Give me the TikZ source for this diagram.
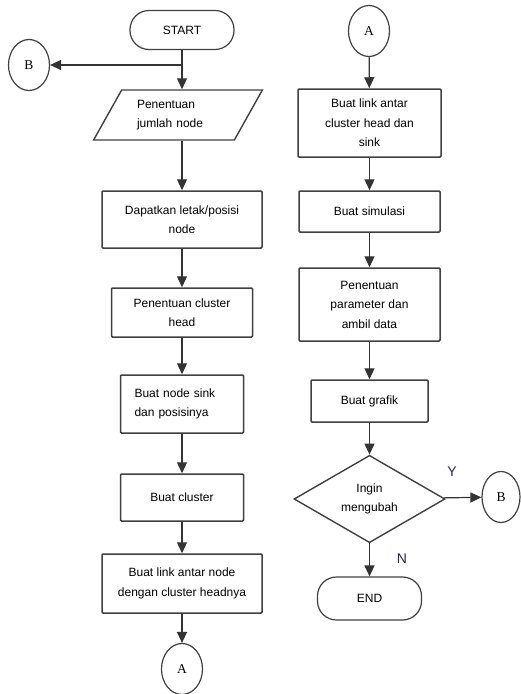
\documentclass[tikz,border=0pt]{standalone}
\usepackage{fontspec}
\setmainfont{Liberation Sans}
\newfontfamily\connfont{Liberation Serif}
\usetikzlibrary{arrows.meta,shapes.geometric}
\definecolor{ink}{RGB}{35,35,80}

\begin{document}
\begin{tikzpicture}[x=1pt,y=-1pt,->,>={Triangle[length=11pt,width=10pt]},
        font=\fontsize{12}{19.5}\selectfont,
        every edge/.style={draw=black!80,line width=1.2pt},
        proc/.style={draw=black!75,rectangle,rounded corners=1pt,line width=1.5pt,inner sep=2pt,align=center},
        term/.style={draw=black!75,rectangle,rounded corners=19pt,line width=1.2pt,align=center},
        conn/.style={draw=black!75,ellipse,inner sep=0pt,line width=1.2pt,minimum width=41pt,minimum height=51pt,
                     font=\connfont\fontsize{13.5}{15}\selectfont},
        io/.style={draw=black!75,trapezium,trapezium left angle=56,trapezium right angle=124,
                   trapezium stretches=true,line width=1.4pt,inner sep=0pt},
        decision/.style={draw=black!75,diamond,line width=1.4pt,inner sep=0pt,align=center},
        yn/.style={color=ink,font=\fontsize{14}{16}\selectfont}]

  \useasboundingbox (0,0) rectangle (521,694);

  % kolom kiri
  \node[term,minimum width=104pt,minimum height=39pt] (start) at (182,30) {START};
  \node[conn] (bl) at (29,65) {B};
  \node[io,minimum width=169pt,minimum height=50pt,text width=82pt,align=left] (jml) at (178,115)
        {Penentuan\\jumlah node};
  \node[proc,minimum width=160pt,minimum height=57pt] (dapat) at (182,219.5)
        {Dapatkan letak/posisi\\node};
  \node[proc,minimum width=141pt,minimum height=49pt] (head) at (182,312.5)
        {Penentuan cluster\\head};
  \node[proc,minimum width=123pt,minimum height=58pt,text width=95pt,align=left] (sink) at (182,404)
        {Buat node sink\\dan posisinya};
  \node[proc,minimum width=123pt,minimum height=47pt] (clus) at (182,497.5) {Buat cluster};
  \node[proc,minimum width=160pt,minimum height=59pt] (link) at (182,583.5)
        {Buat link antar node\\dengan cluster headnya};
  \node[conn] (al) at (182,669) {A};

  % kolom kanan
  \node[conn] (ar) at (369,31) {A};
  \node[proc,minimum width=143pt,minimum height=68pt] (linkch) at (369.5,123)
        {Buat link antar\\cluster head dan\\sink};
  \node[proc,minimum width=141pt,minimum height=41pt] (sim) at (369.5,211.5) {Buat simulasi};
  \node[proc,minimum width=141pt,minimum height=73pt] (param) at (369.5,304.5)
        {Penentuan\\parameter dan\\ambil data};
  \node[proc,minimum width=117pt,minimum height=42pt] (grafik) at (369.5,401) {Buat grafik};
  \node[decision,minimum width=151pt,minimum height=84pt] (ubah) at (369.5,499)
        {Ingin\\mengubah};
  \node[conn,minimum width=38pt] (br) at (501,497) {B};
  \node[term,minimum width=104pt,minimum height=43pt] (end) at (369.5,598.5) {END};

  \node[yn] (ya) at (452,472) {Y};
  \node[yn] (no) at (402,559) {N};

  \coordinate (split) at (start |- bl);

  \path (start) edge (start |- jml.north)
        (split) edge (bl)
        (dapat.north |- jml.south) edge (dapat)
        (dapat) edge (head)
        (head)  edge (sink)
        (sink)  edge (clus)
        (clus)  edge (link)
        (link)  edge (al)
        (ar)    edge (linkch)
        (linkch) edge (sim)
        (sim)   edge (param)
        (param) edge (grafik)
        (grafik) edge (ubah)
        (ubah)  edge (end)
        (ubah)  edge (br);

\end{tikzpicture}
\end{document}
